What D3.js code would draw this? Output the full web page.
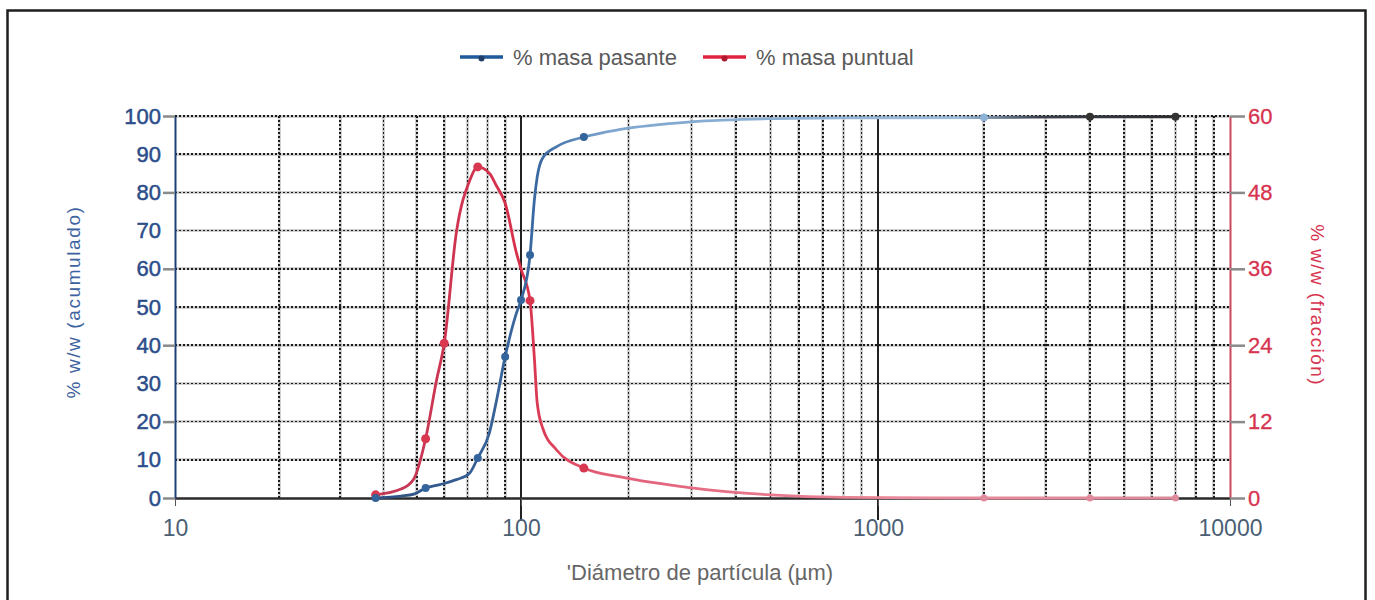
<!DOCTYPE html>
<html>
<head>
<meta charset="utf-8">
<script src="https://cdn.jsdelivr.net/npm/d3@7"></script>
<style>
  body { margin: 0; background: #fff; }
  svg { display: block; font-family: "Liberation Sans", Arial, sans-serif; }
  .grid line { shape-rendering: crispEdges; }
</style>
</head>
<body>
<svg class="granulo" width="1375" height="600"></svg>
<script>
// diametro de particula (um) y los dos porcentajes
var diametro = [38, 45, 49, 53, 57, 60, 65, 71, 75, 81, 85, 90, 97, 100, 106, 109, 111, 115, 126, 150, 190, 300, 500, 800, 2000, 4000, 7000];
var masaPasante = [0, 0.5, 1, 2.6, 3.3, 3.8, 4.8, 6.5, 10.5, 17, 25.6, 37, 48.4, 51.8, 63.6, 78, 84, 89, 92, 94.5, 96.5, 98.5, 99.3, 99.5, 99.6, 99.8, 99.8];
var masaPuntual = [0.5, 1.4, 3, 9.3, 18.5, 24.3, 41.6, 49.8, 52, 51, 49, 46.3, 38.5, 36, 31, 22, 15, 11, 7.5, 4.7, 3.3, 1.6, 0.5, 0.1, 0, 0, 0];
var marcasPasante = [38, 53, 75, 90, 100, 106, 150, 2000, 4000, 7000];
var marcasPuntual = [38, 53, 60, 75, 106, 150, 2000, 4000, 7000];

var xTicks = [10, 100, 1000, 10000];
var yLeftTicks = [0, 10, 20, 30, 40, 50, 60, 70, 80, 90, 100];
var yRightTicks = [0, 12, 24, 36, 48, 60];
var series = ["% masa pasante", "% masa puntual"];

(function () {
  var left = 175, right = 1230, top = 116, bottom = 498;
  var blue = "#33649c", red = "#d8384f";

  var svg = d3.select(".granulo");

  // marco
  svg.append("rect")
    .attr("x", 7.5).attr("y", 10.5)
    .attr("width", 1358).attr("height", 700)
    .attr("fill", "none").attr("stroke", "#1e1e1e").attr("stroke-width", 2.5);

  var x = d3.scaleLog()
    .domain([10, 100, 1000, 10000])
    .range([left, 521, 878, right]);
  var yL = d3.scaleLinear().domain([0, 100]).range([bottom, top]);
  var yR = d3.scaleLinear().domain([0, 60]).range([bottom, top]);

  // degradados de las curvas (mas claras en la cola)
  var defs = svg.append("defs");
  function gradient(id, stops) {
    var g = defs.append("linearGradient")
      .attr("id", id)
      .attr("gradientUnits", "userSpaceOnUse")
      .attr("x1", left).attr("x2", right).attr("y1", 0).attr("y2", 0);
    stops.forEach(function (s) {
      g.append("stop")
        .attr("offset", (s[0] - left) / (right - left))
        .attr("stop-color", s[1]);
    });
  }
  gradient("gBlue", [[370, "#2d4f80"], [540, "#3b6aa2"], [610, "#7fa6cf"], [960, "#9cbcdb"], [1040, "#3a3f4a"], [1230, "#222"]]);
  gradient("gRed", [[370, "#c23a58"], [520, "#d8304a"], [600, "#e25d76"], [900, "#eb8a9c"], [1230, "#d88a9a"]]);

  // rejilla
  var grid = svg.append("g").attr("class", "grid");
  var minors = [];
  [10, 100, 1000].forEach(function (k) {
    for (var m = 2; m <= 9; m++) minors.push(m * k);
  });

  grid.selectAll("line.hshade")
    .data(yLeftTicks.slice(1))
    .enter().append("line")
      .attr("x1", left).attr("x2", right)
      .attr("y1", function (d) { return yL(d); })
      .attr("y2", function (d) { return yL(d); })
      .attr("stroke", "#9a9a9a").attr("stroke-opacity", 0.45).attr("stroke-width", 3);
  grid.selectAll("line.vshade")
    .data(minors)
    .enter().append("line")
      .attr("x1", function (d) { return x(d); })
      .attr("x2", function (d) { return x(d); })
      .attr("y1", top).attr("y2", bottom)
      .attr("stroke", "#9a9a9a").attr("stroke-opacity", 0.45).attr("stroke-width", 3);

  grid.selectAll("line.h")
    .data(yLeftTicks.slice(1))
    .enter().append("line")
      .attr("x1", left).attr("x2", right)
      .attr("y1", function (d) { return yL(d); })
      .attr("y2", function (d) { return yL(d); })
      .attr("stroke", "#1a1a1a").attr("stroke-width", 1.6)
      .attr("stroke-dasharray", "2,2");
  grid.selectAll("line.v")
    .data(minors)
    .enter().append("line")
      .attr("x1", function (d) { return x(d); })
      .attr("x2", function (d) { return x(d); })
      .attr("y1", top).attr("y2", bottom)
      .attr("stroke", "#1a1a1a").attr("stroke-width", 1.6)
      .attr("stroke-dasharray", "2,2");

  grid.selectAll("line.major")
    .data([100, 1000])
    .enter().append("line")
      .attr("x1", function (d) { return x(d); })
      .attr("x2", function (d) { return x(d); })
      .attr("y1", top).attr("y2", 520)
      .attr("stroke", "#222").attr("stroke-width", 2);

  // ejes
  var xAxis = d3.axisBottom(x)
    .tickValues(xTicks)
    .tickFormat(d3.format("d"))
    .tickSizeInner(8).tickSizeOuter(0).tickPadding(14);
  var gx = svg.append("g")
    .attr("transform", "translate(0," + bottom + ")")
    .call(xAxis);
  gx.select(".domain").attr("stroke", "#2a2a2a").attr("stroke-width", 2.5);
  gx.selectAll(".tick line").attr("stroke", "#555");
  gx.selectAll(".tick text")
    .attr("fill", "#4b5f74").style("font-size", "23px");

  var yAxisL = d3.axisLeft(yL)
    .tickValues(yLeftTicks)
    .tickSizeInner(12).tickSizeOuter(0).tickPadding(2);
  var gyl = svg.append("g")
    .attr("transform", "translate(" + left + ",0)")
    .call(yAxisL);
  gyl.select(".domain").attr("stroke", "#1f3f78").attr("stroke-width", 2);
  gyl.selectAll(".tick line")
    .attr("stroke", "#8a8a8a").attr("stroke-width", 2.5)
    .attr("opacity", function (d) { return d % 20 === 0 ? 1 : 0; });
  gyl.selectAll(".tick text")
    .attr("fill", "#2b4d8a").attr("stroke", "#2b4d8a").attr("stroke-width", 0.5)
    .style("font-size", "22px");

  var yAxisR = d3.axisRight(yR)
    .tickValues(yRightTicks)
    .tickSizeInner(15).tickSizeOuter(0).tickPadding(3);
  var gyr = svg.append("g")
    .attr("transform", "translate(" + right + ",0)")
    .call(yAxisR);
  gyr.select(".domain").attr("stroke", "#c9485f").attr("stroke-width", 2);
  gyr.selectAll(".tick line").attr("stroke", "#8a8a8a").attr("stroke-width", 2.5);
  gyr.selectAll(".tick text")
    .attr("fill", "#d6334f").attr("stroke", "#d6334f").attr("stroke-width", 0.3)
    .style("font-size", "22px");

  // titulos de ejes
  svg.append("text")
    .attr("transform", "translate(80,302) rotate(-90)")
    .attr("text-anchor", "middle")
    .attr("fill", "#3d62a0")
    .style("font-size", "19px").style("letter-spacing", "1.6px")
    .text("% w/w (acumulado)");
  svg.append("text")
    .attr("transform", "translate(1311,305) rotate(90)")
    .attr("text-anchor", "middle")
    .attr("fill", "#d6334f")
    .style("font-size", "19px").style("letter-spacing", "1.4px")
    .text("% w/w (fracción)");
  svg.append("text")
    .attr("x", 700).attr("y", 580)
    .attr("text-anchor", "middle")
    .attr("fill", "#666")
    .style("font-size", "22px")
    .text("'Diámetro de partícula (µm)");

  // curvas
  var datos = diametro.map(function (d, i) {
    return {d: d, pasante: masaPasante[i], puntual: masaPuntual[i]};
  });

  var lineaPasante = d3.line()
    .x(function (d) { return x(d.d); })
    .y(function (d) { return yL(d.pasante); })
    .curve(d3.curveMonotoneX);
  var lineaPuntual = d3.line()
    .x(function (d) { return x(d.d); })
    .y(function (d) { return yR(d.puntual); })
    .curve(d3.curveMonotoneX);

  svg.append("path")
    .datum(datos)
    .attr("d", lineaPuntual)
    .attr("fill", "none").attr("stroke", "url(#gRed)")
    .attr("stroke-width", 2.8);
  svg.append("path")
    .datum(datos)
    .attr("d", lineaPasante)
    .attr("fill", "none").attr("stroke", "url(#gBlue)")
    .attr("stroke-width", 2.8);

  svg.selectAll("circle.puntual")
    .data(datos.filter(function (d) { return marcasPuntual.indexOf(d.d) >= 0; }))
    .enter().append("circle")
      .attr("cx", function (d) { return x(d.d); })
      .attr("cy", function (d) { return yR(d.puntual); })
      .attr("r", function (d) { return d.d > 1000 ? 3.5 : 4.5; })
      .attr("fill", function (d) { return d.d > 1000 ? "#e0899a" : red; });
  svg.selectAll("circle.pasante")
    .data(datos.filter(function (d) { return marcasPasante.indexOf(d.d) >= 0; }))
    .enter().append("circle")
      .attr("cx", function (d) { return x(d.d); })
      .attr("cy", function (d) { return yL(d.pasante); })
      .attr("r", 4)
      .attr("fill", function (d) { return d.d === 2000 ? "#8fb3d8" : d.d > 2000 ? "#333" : blue; });

  // leyenda
  var legend = svg.append("g").attr("transform", "translate(460,57)");
  var items = legend.selectAll("g")
    .data(series)
    .enter().append("g")
      .attr("transform", function (d, i) { return "translate(" + (i * 243) + ",0)"; });
  items.append("line")
    .attr("x1", 0).attr("x2", 43)
    .attr("stroke", function (d, i) { return i === 0 ? "#1f5a9a" : "#e0243f"; })
    .attr("stroke-width", 3.5);
  items.append("circle")
    .attr("cx", 21.5).attr("cy", 1.5).attr("r", 3)
    .attr("fill", function (d, i) { return i === 0 ? "#1f3f6a" : "#b01830"; });
  items.append("text")
    .attr("x", 53).attr("y", 8)
    .attr("fill", "#5a5a5a")
    .style("font-size", "22px")
    .text(function (d) { return d; });
})();
</script>
</body>
</html>
